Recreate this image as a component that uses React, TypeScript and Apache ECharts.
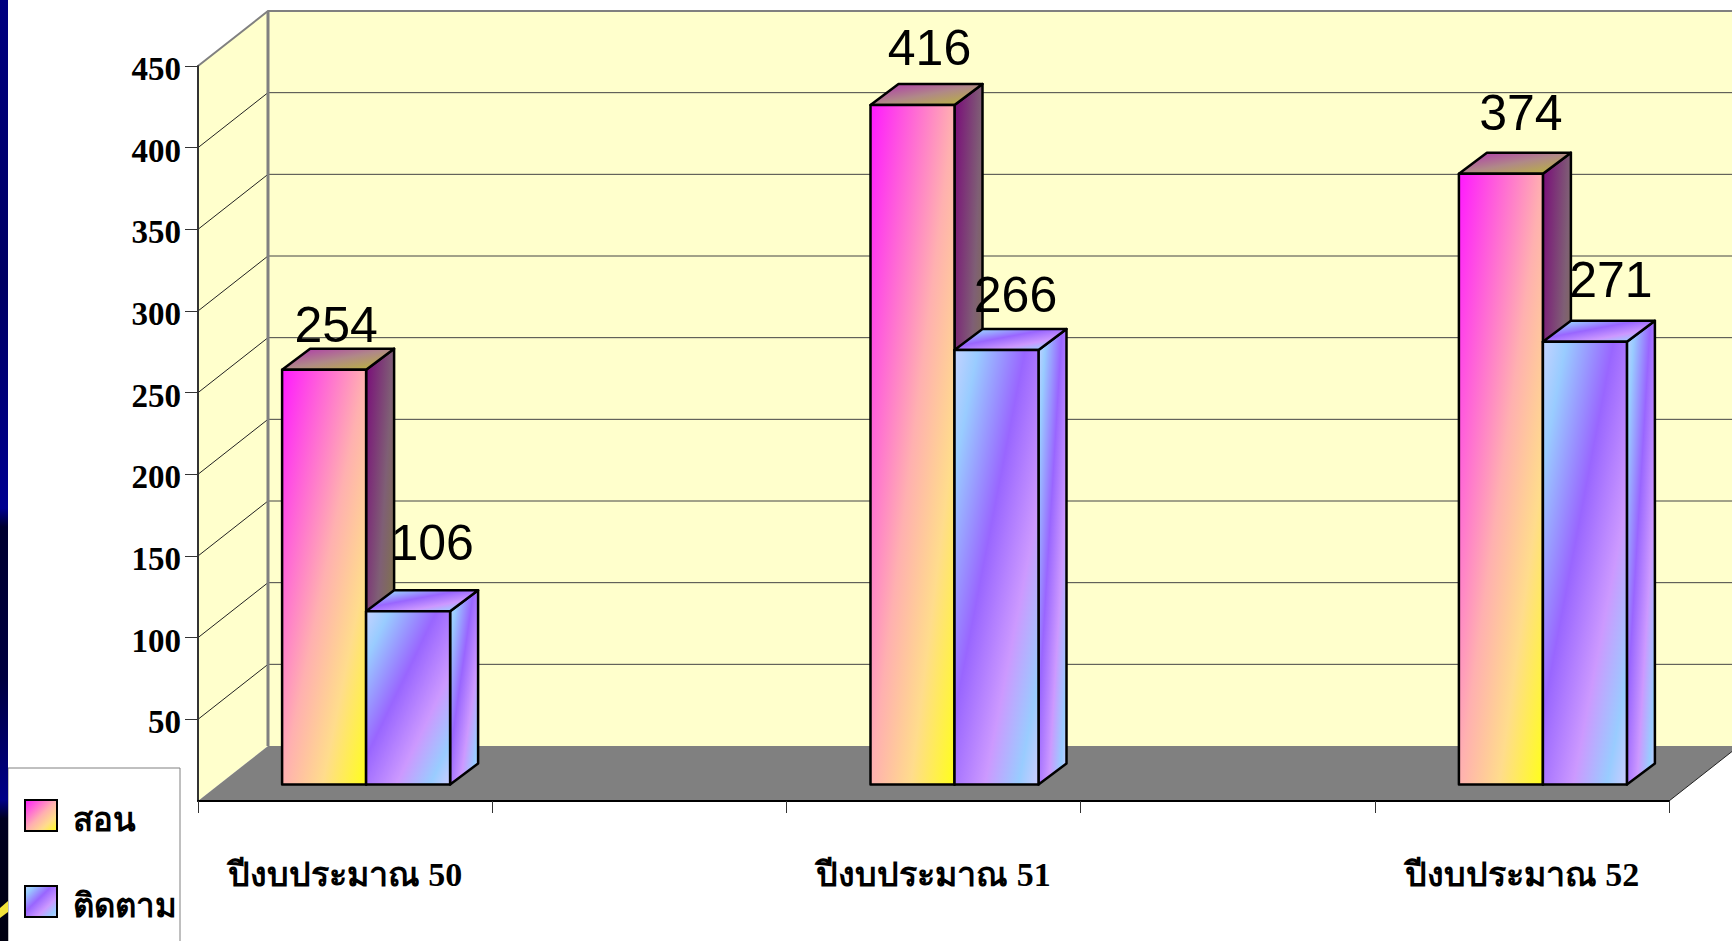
import React, { useEffect, useRef } from "react";
import * as echarts from "echarts";

const categories = ["ปีงบประมาณ 50", "", "ปีงบประมาณ 51", "", "ปีงบประมาณ 52"];
const seriesTeach = [254, null, 416, null, 374];
const seriesFollow = [106, null, 266, null, 271];
const tickValues = [0, 50, 100, 150, 200, 250, 300, 350, 400, 450];

const SERIF = '"Liberation Serif", "Noto Sans", serif';
const WALL_DX = 70;
const WALL_DY = 55;
const BAR_DX = 28;
const BAR_DY = 21;
const BAR_INSET_X = 21;
const BAR_INSET_Y = 16.5;
const BAR_W = 84;

const grad = (x2: number, y2: number, stops: [number, string][]) => ({
  type: "linear", x: 0, y: 0, x2, y2, colorStops: stops.map(([offset, color]) => ({ offset, color })),
});

const teachFront = [[0, "#ff19ff"], [0.5, "#ffb0b0"], [0.74, "#ffdc8c"], [1, "#ffff19"]] as [number, string][];
const teachTop = [[0, "#b030b0"], [0.5, "#b08888"], [1, "#bbbb30"]] as [number, string][];
const teachSide = [[0, "#7a0a7a"], [0.5, "#7f5f75"], [1, "#808030"]] as [number, string][];
const followFront = [[0, "#c4d2ff"], [0.14, "#99ccff"], [0.42, "#9966ff"], [0.68, "#cc99ff"], [0.88, "#99ccff"], [1, "#ccccff"]] as [number, string][];
const stripeStops = [[0, "#000080"], [0.3, "#000064"], [0.54, "#000090"], [0.56, "#000030"], [0.72, "#000040"], [0.85, "#000088"], [0.87, "#000020"], [1, "#000010"]] as [number, string][];

function barRender(offsetDir: number, values: (number | null)[], front: any, top: any, side: any, labelNudge: [number, number][]) {
  return (params: any, api: any) => {
    const idx = api.value(0);
    const val = values[idx];
    if (val == null) return null;
    const [cx, yTop] = api.coord([idx, val]);
    const [, yBase] = api.coord([idx, 0]);
    const x0 = cx + BAR_INSET_X + (offsetDir < 0 ? -BAR_W : 0);
    const x1 = x0 + BAR_W;
    const t = yTop - BAR_INSET_Y;
    const b = yBase - BAR_INSET_Y;
    const stroke = { stroke: "#000", lineWidth: 2.5, lineJoin: "round" };
    const nudge = labelNudge[idx];
    return {
      type: "group",
      children: [
        { type: "polygon", shape: { points: [[x1, t], [x1 + BAR_DX, t - BAR_DY], [x1 + BAR_DX, b - BAR_DY], [x1, b]] }, style: { fill: side, ...stroke } },
        { type: "polygon", shape: { points: [[x0, t], [x0 + BAR_DX, t - BAR_DY], [x1 + BAR_DX, t - BAR_DY], [x1, t]] }, style: { fill: top, ...stroke } },
        { type: "rect", shape: { x: x0, y: t, width: BAR_W, height: b - t }, style: { fill: front, ...stroke } },
        {
          type: "text",
          style: {
            text: String(val), x: x0 + BAR_W / 2 + nudge[0], y: t + nudge[1],
            fill: "#000", font: '50px "Liberation Sans", Arial, sans-serif', align: "center", verticalAlign: "middle",
          },
          z2: 20,
        },
      ],
    };
  };
}

const teachNudge: [number, number][] = [[12, -45], [0, 0], [17, -57], [0, 0], [20, -61]];
const followNudge: [number, number][] = [[24, -68], [0, 0], [19, -55], [0, 0], [26, -62]];

export default function App() {
  const ref = useRef<HTMLDivElement>(null);
  useEffect(() => {
    document.body.style.margin = "0";
    document.body.style.overflow = "hidden";
    const chart = echarts.init(ref.current!, undefined, { renderer: "svg" });
    const indices = categories.map((_, i) => i);
    chart.setOption({
      animation: false,
      backgroundColor: "#ffffff",
      grid: { left: 198, top: 66, width: 1471, height: 735, containLabel: false },
      legend: {
        orient: "vertical", left: 8, top: 768, height: 500, padding: [31, 3, 60, 16], itemWidth: 32, itemHeight: 31, itemGap: 49,
        backgroundColor: "#ffffff", borderColor: "#808080", borderWidth: 1,
        formatter: "{t|{name}}",
        textStyle: {
          fontFamily: SERIF, fontWeight: "bold", fontSize: 33, color: "#000",
          rich: { t: { fontFamily: SERIF, fontWeight: "bold", fontSize: 33, color: "#000", padding: [8, 0, 0, 11] } },
        },
        data: [
          { name: "สอน", icon: "rect", itemStyle: { color: grad(1, 1, teachFront), borderColor: "#000", borderWidth: 2 } },
          { name: "ติดตาม", icon: "rect", itemStyle: { color: grad(1, 1, followFront), borderColor: "#000", borderWidth: 2 } },
        ],
      },
      xAxis: {
        type: "category", data: categories, boundaryGap: true, z: 3,
        axisLine: { lineStyle: { color: "#000", width: 2 } },
        axisTick: { show: true, alignWithLabel: false, length: 12, lineStyle: { color: "#333", width: 1 } },
        axisLabel: { interval: 0, margin: 56, fontFamily: SERIF, fontWeight: "bold", fontSize: 34, color: "#000" },
      },
      yAxis: {
        type: "value", min: 0, max: 450, interval: 50, z: 3,
        axisLine: { show: true, lineStyle: { color: "#333", width: 2 } },
        axisTick: { show: true, length: 13, lineStyle: { color: "#333", width: 1 } },
        splitLine: { show: false },
        axisLabel: { showMinLabel: false, margin: 17, fontFamily: SERIF, fontWeight: "bold", fontSize: 33, color: "#000", verticalAlign: "top", lineHeight: 6 },
      },
      graphic: [
        { type: "rect", z: 100, shape: { x: 0, y: 0, width: 8, height: 941 }, style: { fill: grad(0, 1, stripeStops) } },
        { type: "polygon", z: 101, shape: { points: [[0, 908], [8, 901], [8, 912], [0, 918]] }, style: { fill: "#f2e23a" } },
      ],
      series: [
        {
          // Walls, floor and depth gridlines of the chart box
          name: "frame", type: "custom", silent: true, z: 1, clip: false,
          data: [0],
          encode: { x: 0 },
          renderItem: (params: any, api: any) => {
            const cs = params.coordSys;
            const left = cs.x, right = cs.x + cs.width, top = cs.y, bottom = cs.y + cs.height;
            const children: any[] = [
              { type: "polygon", shape: { points: [[left, top], [left + WALL_DX, top - WALL_DY], [left + WALL_DX, bottom - WALL_DY], [left, bottom]] }, style: { fill: "#ffffcc" } },
              { type: "rect", shape: { x: left + WALL_DX, y: top - WALL_DY, width: cs.width, height: cs.height }, style: { fill: "#ffffcc" } },
              { type: "polygon", shape: { points: [[left, bottom], [left + WALL_DX, bottom - WALL_DY], [right + WALL_DX, bottom - WALL_DY], [right, bottom]] }, style: { fill: "#808080" } },
            ];
            tickValues.forEach((v) => {
              const y = api.coord([0, v])[1];
              if (v === 0 || v === 450) return;
              children.push(
                { type: "line", shape: { x1: left, y1: y, x2: left + WALL_DX, y2: y - WALL_DY }, style: { stroke: "#222", lineWidth: 1 } },
                { type: "line", shape: { x1: left + WALL_DX, y1: y - WALL_DY, x2: right + WALL_DX, y2: y - WALL_DY }, style: { stroke: "#444", lineWidth: 1 } },
              );
            });
            children.push(
              { type: "polyline", shape: { points: [[left, top], [left + WALL_DX, top - WALL_DY], [right + WALL_DX, top - WALL_DY]] }, style: { stroke: "#808080", lineWidth: 2, fill: "none" } },
              { type: "line", shape: { x1: left + WALL_DX, y1: top - WALL_DY, x2: left + WALL_DX, y2: bottom - WALL_DY }, style: { stroke: "#808080", lineWidth: 3 } },
              { type: "line", shape: { x1: right, y1: bottom, x2: right + WALL_DX, y2: bottom - WALL_DY }, style: { stroke: "#222", lineWidth: 1 } },
            );
            return { type: "group", children };
          },
        },
        {
          name: "สอน", type: "custom", z: 3, clip: false, data: indices.map((i) => [i, seriesTeach[i] ?? 0]),
          encode: { x: 0, y: 1 }, itemStyle: { color: "#ff19ff" },
          renderItem: barRender(-1, seriesTeach, grad(1, 1, teachFront), grad(1, 1, teachTop), grad(1, 1, teachSide), teachNudge),
        },
        {
          name: "ติดตาม", type: "custom", z: 4, clip: false, data: indices.map((i) => [i, seriesFollow[i] ?? 0]),
          encode: { x: 0, y: 1 }, itemStyle: { color: "#9966ff" },
          renderItem: barRender(1, seriesFollow, grad(1, 1, followFront), grad(1, 1, followFront), grad(1, 1, followFront), followNudge),
        },
      ],
    });
    return () => chart.dispose();
  }, []);
  return <div ref={ref} style={{ width: 1732, height: 941 }} />;
}
